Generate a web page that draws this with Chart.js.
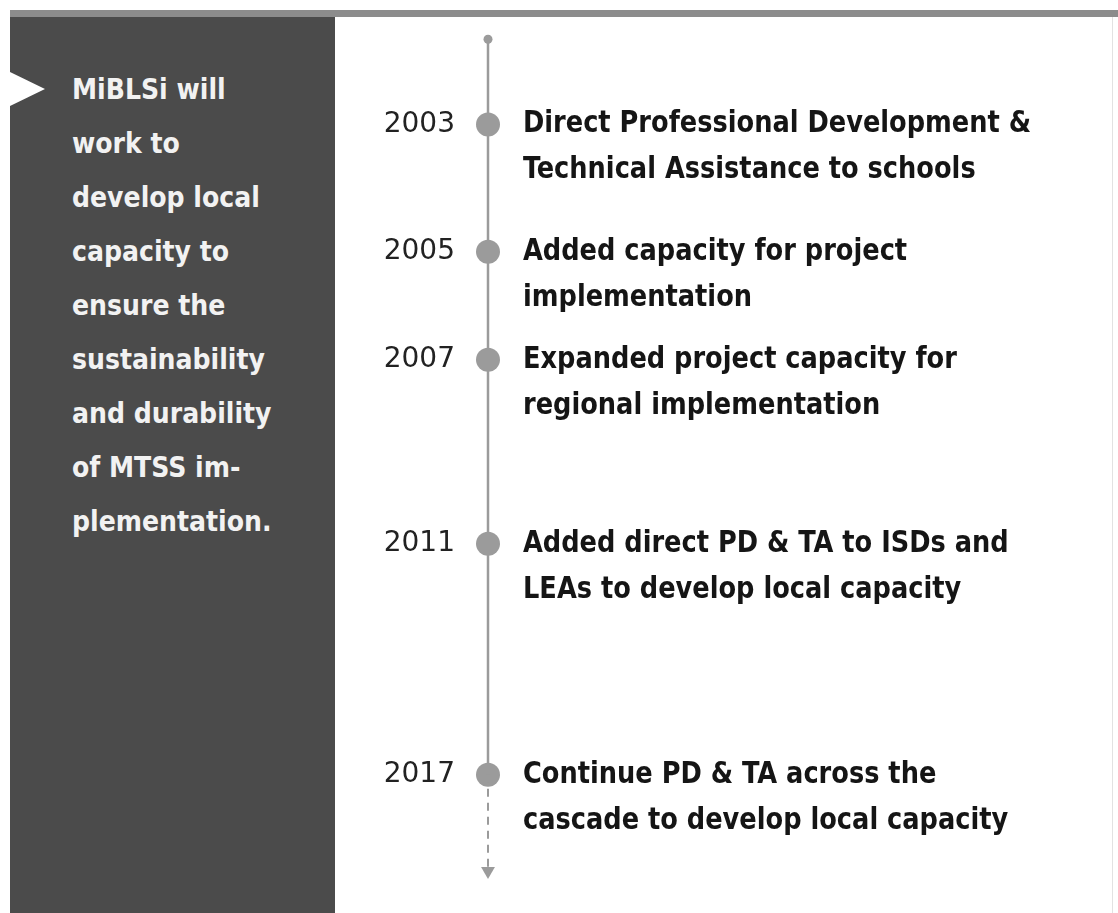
<!DOCTYPE html>
<html>
<head>
<meta charset="utf-8">
<script src="https://cdn.jsdelivr.net/npm/chart.js@4/dist/chart.umd.min.js"></script>
<style>
  html, body { margin: 0; padding: 0; background: #fff; }
  body { width: 1118px; height: 913px; position: relative; overflow: hidden; }
  #topbar { position: absolute; left: 10px; right: 0; top: 10px; height: 7px; background: #8c8c8c; }
  #edge { position: absolute; left: 1112px; top: 17px; width: 1px; bottom: 0; background: #e2e2e2; }
  #panel {
    position: absolute; left: 10px; top: 17px; width: 325px; height: 896px;
    background: #4b4b4b;
  }
  #notch {
    position: absolute; left: 10px; top: 72px; width: 0; height: 0;
    border-top: 17px solid transparent; border-bottom: 17px solid transparent;
    border-left: 35px solid #fff;
  }
  #panelText {
    position: absolute; left: 72px; top: 63px; margin: 0;
    font-family: "Liberation Sans Narrow", "DejaVu Sans Condensed", sans-serif;
    font-weight: bold; font-size: 28px; line-height: 54px; color: #f2f2f2;
  }
  #chart { position: absolute; left: 0; top: 0; }
</style>
</head>
<body>
<div id="topbar"></div>
<div id="edge"></div>
<div id="panel"></div>
<div id="notch"></div>
<div id="panelText"></div>
<canvas id="chart" width="1118" height="913"></canvas>
<script>
// 时间轴数据
const YEARS = [2003, 2005, 2007, 2011, 2017];
const MILESTONES = [
    ['Direct Professional Development &', 'Technical Assistance to schools'],
    ['Added capacity for project', 'implementation'],
    ['Expanded project capacity for', 'regional implementation'],
    ['Added direct PD & TA to ISDs and', 'LEAs to develop local capacity'],
    ['Continue PD & TA across the', 'cascade to develop local capacity']
];
const PANEL_LINES = [
    'MiBLSi will', 'work to', 'develop local', 'capacity to', 'ensure the',
    'sustainability', 'and durability', 'of MTSS im-', 'plementation.'
];
const AXIS_MIN = 2001.9;
const AXIS_MAX = 2019.8;
const YEAR_ORIGIN = 2000;
const SCALE_POWER = 0.6;

document.getElementById('panelText').innerHTML = PANEL_LINES.join('<br>');

/**
 * 时间轴比例尺: 早期年份间距更大 (幂次压缩)
 */
class TimelineScale extends Chart.LinearScale {
    _f(v) {
        return Math.pow(Math.max(v - YEAR_ORIGIN, 0), SCALE_POWER);
    }
    getPixelForValue(value) {
        const lo = this._f(this.min), hi = this._f(this.max);
        return this.getPixelForDecimal((this._f(value) - lo) / (hi - lo));
    }
    getValueForPixel(pixel) {
        const lo = this._f(this.min), hi = this._f(this.max);
        const s = lo + this.getDecimalForPixel(pixel) * (hi - lo);
        return Math.pow(s, 1 / SCALE_POWER) + YEAR_ORIGIN;
    }
}
TimelineScale.id = 'timeline';
TimelineScale.defaults = Chart.LinearScale.defaults;
Chart.register(TimelineScale);

const GREY = '#9b9b9b';
const lastYear = YEARS[YEARS.length - 1];

// 里程碑说明文字
const milestoneLabels = {
    id: 'milestoneLabels',
    afterDatasetsDraw(chart) {
        const ctx = chart.ctx;
        const meta = chart.getDatasetMeta(2);
        ctx.save();
        ctx.fillStyle = '#151515';
        ctx.font = 'bold 31px "Liberation Sans Narrow", "DejaVu Sans Condensed", sans-serif';
        ctx.textAlign = 'left';
        ctx.textBaseline = 'middle';
        meta.data.forEach((pt, i) => {
            MILESTONES[i].forEach((line, k) => {
                ctx.save();
                ctx.translate(pt.x + 35, pt.y + k * 46);
                ctx.scale(0.92, 1);
                ctx.fillText(line, 0, 0);
                ctx.restore();
            });
        });
        ctx.restore();
    }
};

new Chart(document.getElementById('chart'), {
    type: 'scatter',
    data: {
        datasets: [{
            // 实线主干
            type: 'line',
            data: [AXIS_MIN, ...YEARS].map(y => ({ x: 0, y })),
            borderColor: GREY,
            borderWidth: 2.5,
            backgroundColor: GREY,
            pointRadius: c => c.dataIndex === 0 ? 4.5 : 0,
            pointBorderWidth: 0,
            clip: false
        }, {
            // 虚线延伸 + 箭头
            type: 'line',
            data: [lastYear, AXIS_MAX].map(y => ({ x: 0, y })),
            borderColor: GREY,
            borderWidth: 2,
            borderDash: [8, 6],
            backgroundColor: GREY,
            pointRadius: c => c.dataIndex === 1 ? 8 : 0,
            pointStyle: 'triangle',
            pointRotation: 180,
            pointBorderWidth: 0,
            clip: false
        }, {
            data: YEARS.map(y => ({ x: 0, y })),
            backgroundColor: GREY,
            pointRadius: 12,
            pointBorderWidth: 0,
            clip: false
        }]
    },
    options: {
        responsive: false,
        animation: false,
        events: [],
        layout: { padding: { top: 39.3, bottom: 41.9, left: 0, right: 20 } },
        plugins: { legend: { display: false }, tooltip: { enabled: false } },
        scales: {
            x: { type: 'linear', display: false, min: 0, max: 1 },
            y: {
                type: 'timeline',
                position: 'left',
                reverse: true,
                min: AXIS_MIN,
                max: AXIS_MAX,
                afterFit: s => {
                    s.width = 488;
                    s.paddingTop = 0;
                    s.paddingBottom = 0;
                },
                afterBuildTicks: s => { s.ticks = YEARS.map(v => ({ value: v })); },
                grid: { display: false, drawTicks: false },
                border: { display: false },
                ticks: {
                    autoSkip: false,
                    padding: 33,
                    color: '#222',
                    font: { family: 'DejaVu Sans', size: 28 },
                    callback: v => String(v)
                }
            }
        }
    },
    plugins: [milestoneLabels]
});
</script>
</body>
</html>
